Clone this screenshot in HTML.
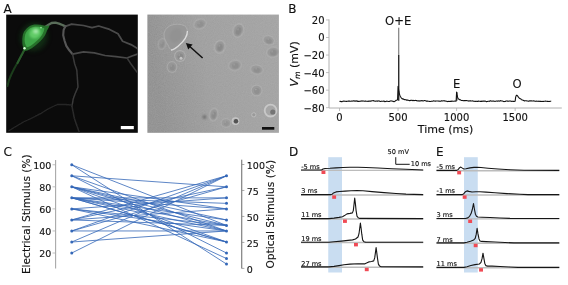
<!DOCTYPE html>
<html lang="en"><head><meta charset="utf-8"><title>Figure</title>
<style>html,body{margin:0;padding:0;background:#fff;overflow:hidden}svg{display:block}text{font-family:'DejaVu Sans','Liberation Sans',sans-serif;fill:#111;stroke:#111;stroke-width:0.14px;paint-order:stroke}</style></head><body>
<svg width="568" height="285" viewBox="0 0 568 285">
<defs>
<filter id="b06" x="-30%" y="-30%" width="160%" height="160%"><feGaussianBlur stdDeviation="0.45"/></filter>
<filter id="b08" x="-30%" y="-30%" width="160%" height="160%"><feGaussianBlur stdDeviation="0.70"/></filter>
<filter id="b10" x="-30%" y="-30%" width="160%" height="160%"><feGaussianBlur stdDeviation="0.90"/></filter>
<filter id="b15" x="-30%" y="-30%" width="160%" height="160%"><feGaussianBlur stdDeviation="1.30"/></filter>
<filter id="b25" x="-30%" y="-30%" width="160%" height="160%"><feGaussianBlur stdDeviation="2.40"/></filter>
<filter id="noise" x="0" y="0" width="100%" height="100%"><feTurbulence type="fractalNoise" baseFrequency="0.9" numOctaves="2" seed="4"/><feColorMatrix type="matrix" values="0 0 0 0 0.5  0 0 0 0 0.5  0 0 0 0 0.5  0.6 0.6 0.6 0 -0.55"/></filter>
<linearGradient id="gbf" x1="0" y1="0.15" x2="1" y2="0"><stop offset="0" stop-color="#909090"/><stop offset="0.4" stop-color="#9f9f9f"/><stop offset="1" stop-color="#a4a4a4"/></linearGradient>
</defs>
<rect width="568" height="285" fill="#fff"/>
<g id="panelA">
<text x="3.5" y="13.1" font-size="12">A</text>
<clipPath id="cA1"><rect x="6.2" y="14.6" width="131.6" height="118.2"/></clipPath>
<rect x="6.2" y="14.6" width="131.6" height="118.2" fill="#0b0b0b"/>
<g clip-path="url(#cA1)">
<polyline points="45.50,26.80 48.50,24.80 51.60,23.00 55.50,22.70 59.00,23.60 62.50,25.00 65.30,26.40" fill="none" stroke="#5a6e5a" stroke-width="2.30" stroke-opacity="1.00" stroke-linecap="round" stroke-linejoin="round" filter="url(#b08)"/>
<polyline points="65.30,26.40 71.60,24.10 83.50,25.50 92.00,27.60 98.70,26.00 109.60,29.40 118.00,33.70 122.60,41.30 131.00,44.60 136.70,47.90 139.00,50.00" fill="none" stroke="#4c4c4c" stroke-width="1.70" stroke-opacity="1.00" stroke-linecap="round" stroke-linejoin="round" filter="url(#b08)"/>
<polyline points="65.30,26.40 63.60,30.00 63.20,35.30 64.50,40.50 66.30,45.80 69.30,50.30 72.60,54.20" fill="none" stroke="#565656" stroke-width="2.10" stroke-opacity="1.00" stroke-linecap="round" stroke-linejoin="round" filter="url(#b08)"/>
<polyline points="72.60,54.20 83.50,51.80 94.30,52.90 105.00,55.50 116.00,56.60 127.00,58.00 132.00,56.00 136.70,54.40 139.00,53.00" fill="none" stroke="#484848" stroke-width="1.70" stroke-opacity="1.00" stroke-linecap="round" stroke-linejoin="round" filter="url(#b08)"/>
<polyline points="127.00,58.00 131.00,64.00 136.70,71.80 139.00,74.00" fill="none" stroke="#383838" stroke-width="1.50" stroke-opacity="1.00" stroke-linecap="round" stroke-linejoin="round" filter="url(#b08)"/>
<polyline points="72.60,54.20 74.70,64.00 76.80,70.00 78.00,87.00 75.00,94.00 73.20,99.00 72.00,106.40" fill="none" stroke="#3a3a3a" stroke-width="1.50" stroke-opacity="1.00" stroke-linecap="round" stroke-linejoin="round" filter="url(#b08)"/>
<polyline points="72.00,106.40 74.40,118.50 77.00,126.00 79.20,132.00 80.00,134.00" fill="none" stroke="#2a2a2a" stroke-width="1.50" stroke-opacity="1.00" stroke-linecap="round" stroke-linejoin="round" filter="url(#b08)"/>
<polyline points="72.00,105.00 65.00,104.50 57.40,104.50 48.00,109.00 40.40,113.70 31.00,118.50 23.40,122.00 15.00,127.00 8.90,130.70" fill="none" stroke="#262626" stroke-width="1.30" stroke-opacity="1.00" stroke-linecap="round" stroke-linejoin="round" filter="url(#b08)"/>
<polyline points="24.50,49.50 21.50,55.00 18.30,61.40 14.50,68.00 11.50,74.00 9.00,80.00 7.50,86.00" fill="none" stroke="#1c3c1c" stroke-width="2.00" stroke-opacity="1.00" stroke-linecap="round" stroke-linejoin="round" filter="url(#b08)"/>
<polyline points="24.80,49.00 22.50,53.50 19.80,58.50 17.50,63.00" fill="none" stroke="#2a5c2c" stroke-width="2.00" stroke-opacity="1.00" stroke-linecap="round" stroke-linejoin="round" filter="url(#b08)"/>
<ellipse cx="34" cy="37" rx="13" ry="14" fill="#174a1b" opacity="0.55" filter="url(#b25)" transform="rotate(35 34 37)"/>
<path d="M22.3,40.3 C22.5,35 23.2,32.5 25,30.4 C27.2,27.6 29.5,25.8 32.3,25 C36,24.1 40,24.5 43.7,25.6 C45.5,26 47.5,26.3 49.5,25.6 C49.3,27.5 47,30 46,33.3 C44.5,37 41.5,40.3 38,43.3 C34.8,46.1 32.2,48.3 29,49.7 C27,50.7 25.3,51 24.1,50.4 C22.8,47 22.2,44 22.3,40.3 Z" fill="#256f2b" filter="url(#b08)"/>
<path d="M24.6,39.5 C24.6,34.5 26.3,30.5 30.5,28 C35,26 41,26.6 44.3,28.3 C44.3,32.6 40.6,37.6 36.6,41.1 C32.6,44.6 29.3,47.2 26.8,47.3 C25.3,45 24.6,42.5 24.6,39.5 Z" fill="#3da546" filter="url(#b08)"/>
<ellipse cx="35" cy="33" rx="6" ry="5.2" fill="#62cc68" filter="url(#b15)" transform="rotate(-35 35 33)"/>
<ellipse cx="35.8" cy="31.4" rx="2.6" ry="2.2" fill="#a4e6a8" filter="url(#b10)"/>
<circle cx="41" cy="27.6" r="0.9" fill="#8fe094" filter="url(#b06)"/>
<circle cx="24.5" cy="48.3" r="1.2" fill="#d8ffd8" filter="url(#b06)"/>
</g>
<rect x="120.8" y="126" width="13" height="3.2" fill="#ffffff"/>
<clipPath id="cA2"><rect x="147.4" y="14.6" width="131.5" height="118.2"/></clipPath>
<rect x="147.4" y="14.6" width="131.5" height="118.2" fill="url(#gbf)"/>
<g clip-path="url(#cA2)">
<rect x="147.4" y="14.6" width="131.5" height="118.2" filter="url(#noise)" opacity="0.35"/>
<path d="M164,35 C164,31 166.5,27.5 171,25.3 C174.5,23.8 181,23.8 184.5,25.8 C187,27.3 187.8,30.5 187.2,34 C186.2,38.5 182,43 178,46 C175.3,48 173.5,49.6 171.5,49.6 C169.5,49.4 169.3,47.5 168,45 C166,42 164,39 164,35 Z" fill="#979797" stroke="#adadad" stroke-width="0.9" filter="url(#b08)"/>
<ellipse cx="176" cy="35.5" rx="6" ry="7.5" fill="#929292" filter="url(#b15)" transform="rotate(30 176 35.5)"/>
<path d="M187.4,31 C187.6,36 183,42 178.3,46 C175.5,48.3 173.5,50 171,50" fill="none" stroke="#dcdcdc" stroke-width="1.3" filter="url(#b06)"/>
<g transform="translate(180.0,56.0) rotate(0)" opacity="0.85"><ellipse rx="5.9" ry="5.9" fill="#b1b1b1" filter="url(#b08)"/><ellipse rx="4.8" ry="4.8" fill="#979797" filter="url(#b06)"/><ellipse rx="2.8" ry="3.0" cx="0.3" cy="0.5" fill="#888888" filter="url(#b08)"/><circle cx="-0.8" cy="-1" r="0.8" fill="#a6a6a6" filter="url(#b06)"/></g>
<circle cx="181" cy="58.3" r="1.5" fill="#c4c4c4" filter="url(#b06)"/>
<g transform="translate(172.0,67.0) rotate(0)" opacity="0.65"><ellipse rx="5.4" ry="5.9" fill="#b1b1b1" filter="url(#b08)"/><ellipse rx="4.3" ry="4.8" fill="#979797" filter="url(#b06)"/><ellipse rx="2.5" ry="3.0" cx="0.3" cy="0.5" fill="#888888" filter="url(#b08)"/><circle cx="-0.8" cy="-1" r="0.8" fill="#a6a6a6" filter="url(#b06)"/></g>
<g transform="translate(200.0,24.0) rotate(-20)" opacity="0.65"><ellipse rx="6.9" ry="5.4" fill="#b1b1b1" filter="url(#b08)"/><ellipse rx="5.8" ry="4.3" fill="#979797" filter="url(#b06)"/><ellipse rx="3.3" ry="2.7" cx="0.3" cy="0.5" fill="#888888" filter="url(#b08)"/><circle cx="-0.8" cy="-1" r="0.8" fill="#a6a6a6" filter="url(#b06)"/></g>
<g transform="translate(162.0,44.0) rotate(10)" opacity="0.55"><ellipse rx="4.4" ry="5.9" fill="#b1b1b1" filter="url(#b08)"/><ellipse rx="3.3" ry="4.8" fill="#979797" filter="url(#b06)"/><ellipse rx="1.9" ry="3.0" cx="0.3" cy="0.5" fill="#888888" filter="url(#b08)"/><circle cx="-0.8" cy="-1" r="0.8" fill="#a6a6a6" filter="url(#b06)"/></g>
<g transform="translate(238.3,30.5) rotate(20)" opacity="0.90"><ellipse rx="5.7" ry="7.4" fill="#b1b1b1" filter="url(#b08)"/><ellipse rx="4.6" ry="6.3" fill="#979797" filter="url(#b06)"/><ellipse rx="2.6" ry="3.9" cx="0.3" cy="0.5" fill="#888888" filter="url(#b08)"/><circle cx="-0.8" cy="-1" r="0.8" fill="#a6a6a6" filter="url(#b06)"/></g>
<g transform="translate(219.8,46.8) rotate(15)" opacity="0.90"><ellipse rx="5.7" ry="6.9" fill="#b1b1b1" filter="url(#b08)"/><ellipse rx="4.6" ry="5.8" fill="#979797" filter="url(#b06)"/><ellipse rx="2.6" ry="3.6" cx="0.3" cy="0.5" fill="#888888" filter="url(#b08)"/><circle cx="-0.8" cy="-1" r="0.8" fill="#a6a6a6" filter="url(#b06)"/></g>
<g transform="translate(268.7,40.3) rotate(20)" opacity="0.75"><ellipse rx="6.4" ry="5.1" fill="#b1b1b1" filter="url(#b08)"/><ellipse rx="5.3" ry="4.0" fill="#979797" filter="url(#b06)"/><ellipse rx="3.0" ry="2.5" cx="0.3" cy="0.5" fill="#888888" filter="url(#b08)"/><circle cx="-0.8" cy="-1" r="0.8" fill="#a6a6a6" filter="url(#b06)"/></g>
<g transform="translate(273.0,52.2) rotate(-10)" opacity="0.80"><ellipse rx="6.9" ry="5.7" fill="#b1b1b1" filter="url(#b08)"/><ellipse rx="5.8" ry="4.6" fill="#979797" filter="url(#b06)"/><ellipse rx="3.3" ry="2.9" cx="0.3" cy="0.5" fill="#888888" filter="url(#b08)"/><circle cx="-0.8" cy="-1" r="0.8" fill="#a6a6a6" filter="url(#b06)"/></g>
<g transform="translate(235.0,65.3) rotate(-10)" opacity="0.75"><ellipse rx="6.9" ry="5.7" fill="#b1b1b1" filter="url(#b08)"/><ellipse rx="5.8" ry="4.6" fill="#979797" filter="url(#b06)"/><ellipse rx="3.3" ry="2.9" cx="0.3" cy="0.5" fill="#888888" filter="url(#b08)"/><circle cx="-0.8" cy="-1" r="0.8" fill="#a6a6a6" filter="url(#b06)"/></g>
<g transform="translate(256.7,69.6) rotate(10)" opacity="0.75"><ellipse rx="6.9" ry="5.1" fill="#b1b1b1" filter="url(#b08)"/><ellipse rx="5.8" ry="4.0" fill="#979797" filter="url(#b06)"/><ellipse rx="3.3" ry="2.5" cx="0.3" cy="0.5" fill="#888888" filter="url(#b08)"/><circle cx="-0.8" cy="-1" r="0.8" fill="#a6a6a6" filter="url(#b06)"/></g>
<g transform="translate(256.6,90.5) rotate(0)" opacity="0.70"><ellipse rx="5.9" ry="5.9" fill="#b1b1b1" filter="url(#b08)"/><ellipse rx="4.8" ry="4.8" fill="#979797" filter="url(#b06)"/><ellipse rx="2.8" ry="3.0" cx="0.3" cy="0.5" fill="#888888" filter="url(#b08)"/><circle cx="-0.8" cy="-1" r="0.8" fill="#a6a6a6" filter="url(#b06)"/></g>
<g transform="translate(213.7,114.6) rotate(10)" opacity="0.85"><ellipse rx="4.7" ry="6.9" fill="#b1b1b1" filter="url(#b08)"/><ellipse rx="3.6" ry="5.8" fill="#979797" filter="url(#b06)"/><ellipse rx="2.1" ry="3.6" cx="0.3" cy="0.5" fill="#888888" filter="url(#b08)"/><circle cx="-0.8" cy="-1" r="0.8" fill="#a6a6a6" filter="url(#b06)"/></g>
<circle cx="270.6" cy="110.6" r="5.9" fill="#a6a6a6" stroke="#c8c8c8" stroke-width="1.8" filter="url(#b06)"/>
<circle cx="272.8" cy="112" r="2.6" fill="#747474" filter="url(#b08)"/>
<circle cx="235.5" cy="121.1" r="3.3" fill="#b4b4b4" stroke="#c6c6c6" stroke-width="1.2" filter="url(#b08)"/>
<circle cx="236" cy="121.3" r="2.2" fill="#525252" filter="url(#b06)"/>
<circle cx="204.5" cy="117" r="2" fill="#707070" filter="url(#b10)"/>
<circle cx="253.8" cy="114.8" r="2.1" fill="#9a9a9a" stroke="#bdbdbd" stroke-width="0.9" filter="url(#b06)"/>
<g transform="translate(226.0,123.0) rotate(0)" opacity="0.55"><ellipse rx="5.4" ry="4.9" fill="#b1b1b1" filter="url(#b08)"/><ellipse rx="4.3" ry="3.8" fill="#979797" filter="url(#b06)"/><ellipse rx="2.5" ry="2.4" cx="0.3" cy="0.5" fill="#888888" filter="url(#b08)"/><circle cx="-0.8" cy="-1" r="0.8" fill="#a6a6a6" filter="url(#b06)"/></g>
</g>
<line x1="202.6" y1="58" x2="189.5" y2="46.2" stroke="#101010" stroke-width="1.5"/>
<polygon points="185.9,43 192.6,44.6 188.2,49.4" fill="#101010"/>
<rect x="262" y="127" width="12.3" height="2.7" fill="#101010"/>
</g>
<g id="panelB">
<text x="288.3" y="13.1" font-size="12">B</text>
<path d="M329,19.4 V108.0 H561.8" fill="none" stroke="#b0b0b0" stroke-width="1"/>
<line x1="326" x2="329" y1="19.95" y2="19.95" stroke="#b0b0b0" stroke-width="0.8"/>
<text x="324.6" y="23.85" font-size="10" text-anchor="end">20</text>
<line x1="326" x2="329" y1="37.50" y2="37.50" stroke="#b0b0b0" stroke-width="0.8"/>
<text x="324.6" y="41.40" font-size="10" text-anchor="end">0</text>
<line x1="326" x2="329" y1="55.05" y2="55.05" stroke="#b0b0b0" stroke-width="0.8"/>
<text x="324.6" y="58.95" font-size="10" text-anchor="end">−20</text>
<line x1="326" x2="329" y1="72.60" y2="72.60" stroke="#b0b0b0" stroke-width="0.8"/>
<text x="324.6" y="76.50" font-size="10" text-anchor="end">−40</text>
<line x1="326" x2="329" y1="90.15" y2="90.15" stroke="#b0b0b0" stroke-width="0.8"/>
<text x="324.6" y="94.05" font-size="10" text-anchor="end">−60</text>
<line x1="326" x2="329" y1="107.70" y2="107.70" stroke="#b0b0b0" stroke-width="0.8"/>
<text x="324.6" y="111.60" font-size="10" text-anchor="end">−80</text>
<line x1="339.50" x2="339.50" y1="108.0" y2="111" stroke="#b0b0b0" stroke-width="0.8"/>
<text x="339.50" y="120.6" font-size="10" text-anchor="middle">0</text>
<line x1="398.05" x2="398.05" y1="108.0" y2="111" stroke="#b0b0b0" stroke-width="0.8"/>
<text x="398.05" y="120.6" font-size="10" text-anchor="middle">500</text>
<line x1="456.60" x2="456.60" y1="108.0" y2="111" stroke="#b0b0b0" stroke-width="0.8"/>
<text x="456.60" y="120.6" font-size="10" text-anchor="middle">1000</text>
<line x1="515.15" x2="515.15" y1="108.0" y2="111" stroke="#b0b0b0" stroke-width="0.8"/>
<text x="515.15" y="120.6" font-size="10" text-anchor="middle">1500</text>
<text x="445.6" y="132.9" font-size="11" text-anchor="middle">Time (ms)</text>
<text transform="translate(298.2,63.8) rotate(-90)" font-size="11" text-anchor="middle"><tspan font-style="italic">V</tspan><tspan font-style="italic" font-size="7.7" dy="1.9">m</tspan><tspan dy="-1.9"> (mV)</tspan></text>
<polyline points="339.50,101.37 339.97,101.48 340.44,101.31 340.91,101.60 341.37,101.50 341.84,101.73 342.31,101.42 342.78,101.33 343.25,101.10 343.72,101.20 344.18,101.15 344.65,101.21 345.12,101.31 345.59,101.26 346.06,101.42 346.53,101.41 346.99,101.25 347.46,101.23 347.93,101.28 348.40,100.95 348.87,101.02 349.34,101.16 349.80,101.15 350.27,101.24 350.74,101.28 351.21,101.31 351.68,100.99 352.15,101.05 352.62,101.08 353.08,101.02 353.55,100.79 354.02,100.95 354.49,101.11 354.96,100.79 355.43,101.12 355.89,101.20 356.36,101.11 356.83,100.82 357.30,101.07 357.77,101.45 358.24,101.28 358.70,101.33 359.17,101.35 359.64,101.24 360.11,101.20 360.58,101.16 361.05,101.24 361.51,101.05 361.98,100.88 362.45,100.98 362.92,101.11 363.39,101.03 363.86,101.02 364.33,101.22 364.79,101.28 365.26,101.11 365.73,101.15 366.20,101.22 366.67,101.18 367.14,101.19 367.60,101.20 368.07,101.47 368.54,101.15 369.01,101.14 369.48,101.28 369.95,101.12 370.41,101.10 370.88,101.13 371.35,101.01 371.82,100.75 372.29,100.81 372.76,100.71 373.22,100.55 373.69,100.89 374.16,101.06 374.63,100.99 375.10,101.30 375.57,101.31 376.04,101.10 376.50,100.98 376.97,100.97 377.44,101.31 377.91,100.95 378.38,100.95 378.85,100.92 379.31,100.93 379.78,101.26 380.25,101.44 380.72,101.54 381.19,101.17 381.66,101.30 382.12,101.31 382.59,101.31 383.06,101.20 383.53,101.13 384.00,101.12 384.47,101.32 384.93,101.73 385.40,101.55 385.87,101.41 386.34,101.17 386.81,101.20 387.28,101.29 387.75,101.21 388.21,101.42 388.68,101.50 389.15,101.56 389.62,101.41 390.09,101.06 390.56,100.99 391.02,100.90 391.49,100.96 391.96,100.99 392.43,101.12 392.90,101.19 393.37,101.53 393.83,101.60 394.30,101.67 394.77,101.32 395.24,100.99 395.71,100.64 396.18,100.29 396.64,100.25 397.11,99.97 397.58,99.60 398.05,86.41 398.52,89.47 398.99,91.98 399.46,94.07 399.92,95.39 400.39,96.54 400.86,97.27 401.33,97.93 401.80,98.32 402.27,98.97 402.73,98.87 403.20,98.92 403.67,99.22 404.14,99.53 404.61,99.64 405.08,99.63 405.54,99.68 406.01,99.73 406.48,100.11 406.95,100.27 407.42,100.05 407.89,100.06 408.35,100.33 408.82,100.43 409.29,100.59 409.76,100.66 410.23,100.40 410.70,100.43 411.17,100.26 411.63,100.29 412.10,100.55 412.57,100.63 413.04,100.27 413.51,100.46 413.98,100.64 414.44,100.44 414.91,100.48 415.38,100.52 415.85,100.35 416.32,100.69 416.79,100.63 417.25,100.80 417.72,100.97 418.19,101.01 418.66,100.77 419.13,100.78 419.60,101.04 420.06,101.12 420.53,100.81 421.00,100.66 421.47,100.87 421.94,100.51 422.41,100.67 422.88,100.90 423.34,100.91 423.81,100.77 424.28,100.57 424.75,100.53 425.22,100.70 425.69,100.85 426.15,101.08 426.62,101.05 427.09,101.11 427.56,101.03 428.03,101.19 428.50,101.20 428.96,101.26 429.43,101.35 429.90,101.42 430.37,101.44 430.84,101.48 431.31,101.26 431.77,101.17 432.24,101.32 432.71,101.16 433.18,101.08 433.65,100.86 434.12,100.95 434.59,101.01 435.05,101.12 435.52,101.09 435.99,101.01 436.46,101.01 436.93,101.06 437.40,100.99 437.86,101.01 438.33,101.00 438.80,101.16 439.27,101.11 439.74,101.25 440.21,101.33 440.67,101.24 441.14,100.90 441.61,100.82 442.08,100.91 442.55,101.00 443.02,100.89 443.48,100.77 443.95,100.70 444.42,100.86 444.89,100.91 445.36,101.03 445.83,101.10 446.30,101.24 446.76,101.24 447.23,101.52 447.70,101.58 448.17,101.39 448.64,101.45 449.11,101.29 449.57,101.43 450.04,101.40 450.51,101.27 450.98,101.39 451.45,101.42 451.92,100.99 452.38,101.14 452.85,101.25 453.32,101.31 453.79,101.26 454.26,101.24 454.73,101.08 455.19,100.99 455.66,101.10 456.13,101.18 456.60,92.17 457.07,95.24 457.54,97.13 458.01,98.16 458.47,98.92 458.94,99.32 459.41,99.57 459.88,99.90 460.35,99.81 460.82,100.13 461.28,100.37 461.75,100.53 462.22,100.41 462.69,100.53 463.16,100.70 463.63,100.67 464.09,100.55 464.56,100.65 465.03,100.75 465.50,100.63 465.97,100.57 466.44,100.54 466.90,100.77 467.37,100.78 467.84,100.79 468.31,101.10 468.78,100.90 469.25,100.92 469.72,101.00 470.18,100.68 470.65,100.77 471.12,100.96 471.59,101.00 472.06,100.94 472.53,100.87 472.99,100.94 473.46,101.11 473.93,101.21 474.40,101.30 474.87,101.39 475.34,101.31 475.80,101.33 476.27,101.26 476.74,101.34 477.21,101.41 477.68,101.35 478.15,101.34 478.61,101.12 479.08,101.26 479.55,101.20 480.02,101.19 480.49,101.37 480.96,101.21 481.43,101.17 481.89,101.47 482.36,101.30 482.83,101.13 483.30,101.26 483.77,100.99 484.24,101.02 484.70,101.24 485.17,101.14 485.64,101.21 486.11,101.39 486.58,101.64 487.05,101.47 487.51,101.49 487.98,101.31 488.45,101.22 488.92,101.28 489.39,101.33 489.86,101.04 490.32,100.84 490.79,100.84 491.26,101.00 491.73,101.20 492.20,101.25 492.67,101.00 493.14,100.99 493.60,101.10 494.07,101.30 494.54,101.25 495.01,101.36 495.48,101.31 495.95,101.17 496.41,101.03 496.88,101.06 497.35,101.15 497.82,101.13 498.29,100.90 498.76,100.93 499.22,101.21 499.69,100.99 500.16,101.02 500.63,100.58 501.10,100.83 501.57,100.96 502.03,101.07 502.50,101.06 502.97,101.18 503.44,101.40 503.91,101.62 504.38,101.51 504.85,101.49 505.31,101.49 505.78,101.10 506.25,101.02 506.72,100.92 507.19,101.08 507.66,101.07 508.12,101.14 508.59,101.19 509.06,101.09 509.53,101.04 510.00,101.04 510.47,101.07 510.93,101.32 511.40,101.39 511.87,101.28 512.34,101.31 512.81,101.39 513.28,101.28 513.74,101.39 514.21,101.43 514.68,101.24 515.15,101.28 515.62,97.44 516.09,95.78 516.56,95.20 517.02,95.19 517.49,95.98 517.96,96.49 518.43,97.21 518.90,97.74 519.37,98.19 519.83,98.41 520.30,98.83 520.77,98.95 521.24,99.40 521.71,99.70 522.18,99.92 522.64,99.99 523.11,100.21 523.58,100.47 524.05,100.62 524.52,100.91 524.99,100.74 525.45,100.71 525.92,100.74 526.39,100.79 526.86,100.96 527.33,101.06 527.80,100.96 528.27,101.12 528.73,101.24 529.20,100.99 529.67,100.82 530.14,100.88 530.61,100.89 531.08,100.95 531.54,100.82 532.01,100.99 532.48,101.04 532.95,101.01 533.42,100.86 533.89,101.00 534.35,101.03 534.82,101.15 535.29,101.26 535.76,101.33 536.23,101.28 536.70,101.13 537.16,101.25 537.63,101.32 538.10,101.34 538.57,101.25 539.04,101.14 539.51,101.34 539.98,101.25 540.44,101.37 540.91,101.22 541.38,101.35 541.85,101.46 542.32,101.49 542.79,101.41 543.25,101.49 543.72,101.37 544.19,101.30 544.66,101.26 545.13,101.21 545.60,101.08 546.06,101.22 546.53,101.22 547.00,101.22 547.47,101.50 547.94,101.36 548.41,101.42 548.87,101.46 549.34,101.45 549.81,101.36 550.28,101.27 550.75,101.18 551.22,101.29" fill="none" stroke="#111" stroke-width="1.1" stroke-linejoin="round"/>
<line x1="398.75" x2="398.75" y1="55.05" y2="100.68" stroke="#111" stroke-width="1.25"/>
<line x1="398.75" x2="398.75" y1="27.70" y2="55.05" stroke="#333" stroke-width="0.75"/>
<line x1="456.90" x2="456.90" y1="92.20" y2="100.68" stroke="#111" stroke-width="1.0"/>
<text x="398.2" y="24.7" font-size="11.6" text-anchor="middle">O+E</text>
<text x="456.6" y="88.4" font-size="11.6" text-anchor="middle">E</text>
<text x="517.1" y="88.4" font-size="11.6" text-anchor="middle">O</text>
</g>
<g id="panelC">
<text x="3.5" y="156.2" font-size="12">C</text>
<line x1="55.6" x2="55.6" y1="160" y2="268.5" stroke="#a8a8a8" stroke-width="1.1"/>
<line x1="241.75" x2="241.75" y1="159.7" y2="268.5" stroke="#666" stroke-width="1"/>
<line x1="52.5" x2="55.5" y1="253.03" y2="253.03" stroke="#b0b0b0" stroke-width="0.8"/>
<text x="51.4" y="256.93" font-size="9.5" text-anchor="end">20</text>
<line x1="52.5" x2="55.5" y1="230.96" y2="230.96" stroke="#b0b0b0" stroke-width="0.8"/>
<text x="51.4" y="234.86" font-size="9.5" text-anchor="end">40</text>
<line x1="52.5" x2="55.5" y1="208.89" y2="208.89" stroke="#b0b0b0" stroke-width="0.8"/>
<text x="51.4" y="212.79" font-size="9.5" text-anchor="end">60</text>
<line x1="52.5" x2="55.5" y1="186.82" y2="186.82" stroke="#b0b0b0" stroke-width="0.8"/>
<text x="51.4" y="190.72" font-size="9.5" text-anchor="end">80</text>
<line x1="52.5" x2="55.5" y1="164.75" y2="164.75" stroke="#b0b0b0" stroke-width="0.8"/>
<text x="51.4" y="168.65" font-size="9.5" text-anchor="end">100</text>
<line x1="241.75" x2="244.4" y1="268.40" y2="268.40" stroke="#888" stroke-width="0.7"/>
<text x="246.8" y="272.50" font-size="9.5">0</text>
<line x1="241.75" x2="244.4" y1="242.42" y2="242.42" stroke="#888" stroke-width="0.7"/>
<text x="246.8" y="246.52" font-size="9.5">25</text>
<line x1="241.75" x2="244.4" y1="216.45" y2="216.45" stroke="#888" stroke-width="0.7"/>
<text x="246.8" y="220.55" font-size="9.5">50</text>
<line x1="241.75" x2="244.4" y1="190.47" y2="190.47" stroke="#888" stroke-width="0.7"/>
<text x="246.8" y="194.57" font-size="9.5">75</text>
<line x1="241.75" x2="244.4" y1="164.50" y2="164.50" stroke="#888" stroke-width="0.7"/>
<text x="246.8" y="168.60" font-size="9.5">100</text>
<text transform="translate(30.1,214.2) rotate(-90)" font-size="10.6" text-anchor="middle">Electrical Stimulus (%)</text>
<text transform="translate(274.1,214.2) rotate(-90)" font-size="10.6" text-anchor="middle">Optical Stimulus (%)</text>
<line x1="71.75" y1="164.75" x2="226.50" y2="225.44" stroke="#3568b8" stroke-width="0.85" stroke-opacity="0.95"/>
<line x1="71.75" y1="164.75" x2="226.50" y2="264.06" stroke="#3568b8" stroke-width="0.85" stroke-opacity="0.95"/>
<line x1="71.75" y1="175.79" x2="226.50" y2="186.82" stroke="#3568b8" stroke-width="0.85" stroke-opacity="0.95"/>
<line x1="71.75" y1="175.79" x2="226.50" y2="230.96" stroke="#3568b8" stroke-width="0.85" stroke-opacity="0.95"/>
<line x1="71.75" y1="175.79" x2="226.50" y2="253.03" stroke="#3568b8" stroke-width="0.85" stroke-opacity="0.95"/>
<line x1="71.75" y1="186.82" x2="226.50" y2="208.89" stroke="#3568b8" stroke-width="0.85" stroke-opacity="0.95"/>
<line x1="71.75" y1="186.82" x2="226.50" y2="219.93" stroke="#3568b8" stroke-width="0.85" stroke-opacity="0.95"/>
<line x1="71.75" y1="186.82" x2="226.50" y2="225.44" stroke="#3568b8" stroke-width="0.85" stroke-opacity="0.95"/>
<line x1="71.75" y1="186.82" x2="226.50" y2="230.96" stroke="#3568b8" stroke-width="0.85" stroke-opacity="0.95"/>
<line x1="71.75" y1="186.82" x2="226.50" y2="242.00" stroke="#3568b8" stroke-width="0.85" stroke-opacity="0.95"/>
<line x1="71.75" y1="186.82" x2="226.50" y2="258.55" stroke="#3568b8" stroke-width="0.85" stroke-opacity="0.95"/>
<line x1="71.75" y1="197.86" x2="226.50" y2="197.86" stroke="#3568b8" stroke-width="0.85" stroke-opacity="0.95"/>
<line x1="71.75" y1="197.86" x2="226.50" y2="203.37" stroke="#3568b8" stroke-width="0.85" stroke-opacity="0.95"/>
<line x1="71.75" y1="197.86" x2="226.50" y2="208.89" stroke="#3568b8" stroke-width="0.85" stroke-opacity="0.95"/>
<line x1="71.75" y1="197.86" x2="226.50" y2="219.93" stroke="#3568b8" stroke-width="0.85" stroke-opacity="0.95"/>
<line x1="71.75" y1="197.86" x2="226.50" y2="225.44" stroke="#3568b8" stroke-width="0.85" stroke-opacity="0.95"/>
<line x1="71.75" y1="197.86" x2="226.50" y2="230.96" stroke="#3568b8" stroke-width="0.85" stroke-opacity="0.95"/>
<line x1="71.75" y1="197.86" x2="226.50" y2="242.00" stroke="#3568b8" stroke-width="0.85" stroke-opacity="0.95"/>
<line x1="71.75" y1="197.86" x2="226.50" y2="242.00" stroke="#3568b8" stroke-width="0.85" stroke-opacity="0.95"/>
<line x1="71.75" y1="208.89" x2="226.50" y2="197.86" stroke="#3568b8" stroke-width="0.85" stroke-opacity="0.95"/>
<line x1="71.75" y1="208.89" x2="226.50" y2="225.44" stroke="#3568b8" stroke-width="0.85" stroke-opacity="0.95"/>
<line x1="71.75" y1="208.89" x2="226.50" y2="230.96" stroke="#3568b8" stroke-width="0.85" stroke-opacity="0.95"/>
<line x1="71.75" y1="208.89" x2="226.50" y2="242.00" stroke="#3568b8" stroke-width="0.85" stroke-opacity="0.95"/>
<line x1="71.75" y1="219.93" x2="226.50" y2="175.79" stroke="#3568b8" stroke-width="0.85" stroke-opacity="0.95"/>
<line x1="71.75" y1="219.93" x2="226.50" y2="186.82" stroke="#3568b8" stroke-width="0.85" stroke-opacity="0.95"/>
<line x1="71.75" y1="219.93" x2="226.50" y2="208.89" stroke="#3568b8" stroke-width="0.85" stroke-opacity="0.95"/>
<line x1="71.75" y1="219.93" x2="226.50" y2="225.44" stroke="#3568b8" stroke-width="0.85" stroke-opacity="0.95"/>
<line x1="71.75" y1="230.96" x2="226.50" y2="175.79" stroke="#3568b8" stroke-width="0.85" stroke-opacity="0.95"/>
<line x1="71.75" y1="230.96" x2="226.50" y2="186.82" stroke="#3568b8" stroke-width="0.85" stroke-opacity="0.95"/>
<line x1="71.75" y1="230.96" x2="226.50" y2="230.96" stroke="#3568b8" stroke-width="0.85" stroke-opacity="0.95"/>
<line x1="71.75" y1="242.00" x2="226.50" y2="175.79" stroke="#3568b8" stroke-width="0.85" stroke-opacity="0.95"/>
<line x1="71.75" y1="242.00" x2="226.50" y2="230.96" stroke="#3568b8" stroke-width="0.85" stroke-opacity="0.95"/>
<line x1="71.75" y1="253.03" x2="226.50" y2="175.79" stroke="#3568b8" stroke-width="0.85" stroke-opacity="0.95"/>
<circle cx="71.75" cy="253.03" r="1.5" fill="#3568b8"/>
<circle cx="71.75" cy="242.00" r="1.5" fill="#3568b8"/>
<circle cx="71.75" cy="230.96" r="1.5" fill="#3568b8"/>
<circle cx="71.75" cy="219.93" r="1.5" fill="#3568b8"/>
<circle cx="71.75" cy="208.89" r="1.5" fill="#3568b8"/>
<circle cx="71.75" cy="197.86" r="1.5" fill="#3568b8"/>
<circle cx="71.75" cy="186.82" r="1.5" fill="#3568b8"/>
<circle cx="71.75" cy="175.79" r="1.5" fill="#3568b8"/>
<circle cx="71.75" cy="164.75" r="1.5" fill="#3568b8"/>
<circle cx="226.50" cy="264.06" r="1.5" fill="#3568b8"/>
<circle cx="226.50" cy="258.55" r="1.5" fill="#3568b8"/>
<circle cx="226.50" cy="253.03" r="1.5" fill="#3568b8"/>
<circle cx="226.50" cy="242.00" r="1.5" fill="#3568b8"/>
<circle cx="226.50" cy="230.96" r="1.5" fill="#3568b8"/>
<circle cx="226.50" cy="225.44" r="1.5" fill="#3568b8"/>
<circle cx="226.50" cy="219.93" r="1.5" fill="#3568b8"/>
<circle cx="226.50" cy="208.89" r="1.5" fill="#3568b8"/>
<circle cx="226.50" cy="203.37" r="1.5" fill="#3568b8"/>
<circle cx="226.50" cy="197.86" r="1.5" fill="#3568b8"/>
<circle cx="226.50" cy="186.82" r="1.5" fill="#3568b8"/>
<circle cx="226.50" cy="175.79" r="1.5" fill="#3568b8"/>
</g>
<g id="panelD">
<text x="289.0" y="155.8" font-size="12">D</text>
<rect x="328.25" y="157.2" width="13.75" height="115.3" fill="#c9ddf1"/>
<line x1="301.00" x2="423.20" y1="170.35" y2="170.35" stroke="#bcbcbc" stroke-width="1.4"/>
<line x1="301.00" x2="423.20" y1="194.95" y2="194.95" stroke="#bcbcbc" stroke-width="1.4"/>
<line x1="301.00" x2="423.20" y1="218.95" y2="218.95" stroke="#bcbcbc" stroke-width="1.4"/>
<line x1="301.00" x2="423.20" y1="242.55" y2="242.55" stroke="#bcbcbc" stroke-width="1.4"/>
<line x1="301.00" x2="423.20" y1="267.25" y2="267.25" stroke="#bcbcbc" stroke-width="1.4"/>
<polyline points="301.00,170.00 321.60,170.00 323.00,169.00 325.00,168.50 330.00,168.30 336.00,167.90 343.00,167.50 350.00,167.30 358.00,167.30 366.00,167.50 378.00,168.00 392.00,168.70 406.00,169.30 418.00,169.70 423.20,170.00" fill="none" stroke="#161616" stroke-width="1.1" stroke-linejoin="round"/>
<text x="301.20" y="168.60" font-size="6.6">-5 ms</text>
<rect x="321.50" y="170.60" width="3.9" height="3.4" fill="#f04a55"/>
<polyline points="301.00,194.60 330.50,194.60 332.00,194.30 333.50,192.90 336.00,191.90 339.50,191.50 345.00,191.10 351.00,190.70 357.00,190.50 363.00,190.80 372.00,191.60 384.00,192.60 396.00,193.50 406.00,194.10 414.00,194.40 423.20,194.60" fill="none" stroke="#161616" stroke-width="1.1" stroke-linejoin="round"/>
<text x="301.20" y="193.20" font-size="6.6">3 ms</text>
<rect x="332.20" y="195.40" width="3.9" height="3.4" fill="#f04a55"/>
<polyline points="301.00,218.60 329.00,218.60 334.00,218.10 339.00,217.40 342.50,216.70 344.50,215.60 347.00,213.90 350.00,213.40 352.40,212.90 353.30,210.60 354.00,204.60 354.70,198.00 355.40,203.60 356.10,210.60 357.00,216.10 358.20,217.80 359.80,218.40 423.20,218.60" fill="none" stroke="#161616" stroke-width="1.1" stroke-linejoin="round"/>
<text x="301.20" y="217.20" font-size="6.6">11 ms</text>
<rect x="343.00" y="219.50" width="3.9" height="3.4" fill="#f04a55"/>
<polyline points="301.00,242.20 329.00,242.20 334.00,241.80 341.40,241.10 348.00,240.40 352.60,239.90 355.50,239.00 358.00,237.00 359.00,233.70 359.70,228.20 360.40,223.00 361.10,228.20 361.80,234.20 362.70,240.20 363.90,241.70 365.40,242.10 423.20,242.20" fill="none" stroke="#161616" stroke-width="1.1" stroke-linejoin="round"/>
<text x="301.20" y="240.80" font-size="6.6">19 ms</text>
<rect x="354.00" y="243.00" width="3.9" height="3.4" fill="#f04a55"/>
<polyline points="301.00,266.90 329.00,266.90 334.00,266.40 339.00,265.60 344.00,264.70 350.00,264.10 358.00,263.80 364.60,263.90 366.50,263.10 368.80,261.90 371.50,261.50 373.70,260.90 374.70,257.90 375.40,252.90 376.10,247.50 376.80,252.90 377.50,258.40 378.40,264.10 379.60,266.10 381.20,266.80 423.20,266.90" fill="none" stroke="#161616" stroke-width="1.1" stroke-linejoin="round"/>
<text x="301.20" y="265.50" font-size="6.6">27 ms</text>
<rect x="364.80" y="267.80" width="3.9" height="3.4" fill="#f04a55"/>
</g>
<path d="M395.75,157.2 V164.3 H409.7" fill="none" stroke="#151515" stroke-width="1"/>
<text x="387.5" y="154.2" font-size="6.6">50 mV</text>
<text x="410.7" y="166.1" font-size="6.6">10 ms</text>
<g id="panelE">
<text x="436.0" y="155.8" font-size="12">E</text>
<rect x="464.00" y="157.2" width="13.75" height="115.3" fill="#c9ddf1"/>
<line x1="436.50" x2="559.30" y1="170.75" y2="170.75" stroke="#bcbcbc" stroke-width="1.4"/>
<line x1="436.50" x2="559.30" y1="194.95" y2="194.95" stroke="#bcbcbc" stroke-width="1.4"/>
<line x1="436.50" x2="559.30" y1="218.85" y2="218.85" stroke="#bcbcbc" stroke-width="1.4"/>
<line x1="436.50" x2="559.30" y1="243.25" y2="243.25" stroke="#bcbcbc" stroke-width="1.4"/>
<line x1="436.50" x2="559.30" y1="267.75" y2="267.75" stroke="#bcbcbc" stroke-width="1.4"/>
<polyline points="436.50,170.40 456.80,170.40 458.30,169.40 459.60,167.70 460.80,167.10 462.00,167.90 463.80,169.00 466.00,168.80 470.00,167.90 474.00,167.40 477.00,167.20 481.00,167.50 488.00,168.20 498.00,169.00 510.00,169.70 524.00,170.25 559.30,170.40" fill="none" stroke="#161616" stroke-width="1.1" stroke-linejoin="round"/>
<text x="436.50" y="169.00" font-size="6.6">-5 ms</text>
<rect x="457.20" y="171.00" width="3.9" height="3.4" fill="#f04a55"/>
<polyline points="436.50,194.60 462.30,194.60 463.80,193.70 465.30,191.80 467.00,190.90 468.80,191.40 472.00,192.00 476.00,191.80 480.00,191.70 486.00,192.10 495.00,192.80 507.00,193.60 520.00,194.30 528.00,194.60 559.30,194.60" fill="none" stroke="#161616" stroke-width="1.1" stroke-linejoin="round"/>
<text x="436.50" y="193.20" font-size="6.6">-1 ms</text>
<rect x="462.70" y="195.40" width="3.9" height="3.4" fill="#f04a55"/>
<polyline points="436.50,218.50 465.50,218.50 467.80,217.90 469.60,216.30 471.10,213.60 472.30,209.50 473.50,203.50 474.40,209.00 475.40,214.20 476.50,216.30 477.80,217.00 482.00,217.20 490.00,217.50 500.00,218.00 510.00,218.40 559.30,218.50" fill="none" stroke="#161616" stroke-width="1.1" stroke-linejoin="round"/>
<text x="436.50" y="217.10" font-size="6.6">3 ms</text>
<rect x="468.20" y="219.60" width="3.9" height="3.4" fill="#f04a55"/>
<polyline points="436.50,242.90 464.00,242.90 467.00,242.30 470.50,241.30 473.70,240.00 475.20,238.30 476.20,234.40 477.10,228.30 478.00,233.90 479.00,238.90 480.00,240.90 481.50,241.40 486.00,241.60 495.00,242.00 505.00,242.50 514.00,242.90 559.30,242.90" fill="none" stroke="#161616" stroke-width="1.1" stroke-linejoin="round"/>
<text x="436.50" y="241.50" font-size="6.6">7 ms</text>
<rect x="473.70" y="243.80" width="3.9" height="3.4" fill="#f04a55"/>
<polyline points="436.50,267.40 464.00,267.40 467.00,266.70 470.90,265.50 475.00,264.60 479.40,264.00 481.00,262.40 482.10,258.40 483.00,253.20 483.90,258.40 484.80,263.40 485.80,265.60 487.50,266.10 492.00,266.10 500.00,266.50 510.00,267.00 518.00,267.40 559.30,267.40" fill="none" stroke="#161616" stroke-width="1.1" stroke-linejoin="round"/>
<text x="436.50" y="266.00" font-size="6.6">11 ms</text>
<rect x="479.10" y="268.20" width="3.9" height="3.4" fill="#f04a55"/>
</g>
</svg></body></html>
